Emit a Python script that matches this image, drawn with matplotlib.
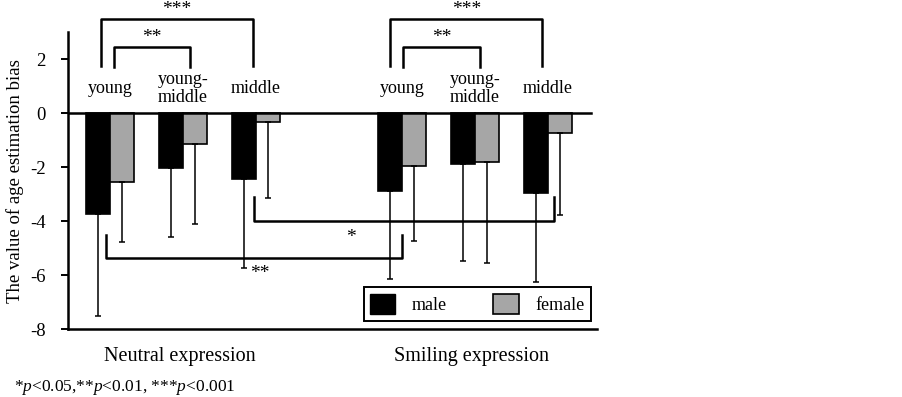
import numpy as np
import matplotlib
matplotlib.use("Agg")
import matplotlib.pyplot as plt
from matplotlib.patches import Patch

plt.rcParams["font.family"] = ["Liberation Serif", "DejaVu Serif"]
plt.rcParams["axes.unicode_minus"] = False
plt.rcParams["mathtext.fontset"] = "custom"
plt.rcParams["mathtext.rm"] = "Liberation Serif"
plt.rcParams["mathtext.it"] = "Liberation Serif:italic"

# data
expressions = ["Neutral expression", "Smiling expression"]
age_groups = ["young", "young-\nmiddle", "middle"]
male_mean = [-3.75, -2.05, -2.44, -2.89, -1.90, -2.95]
male_sd = [3.77, 2.55, 3.28, 3.27, 3.57, 3.30]
female_mean = [-2.56, -1.15, -0.33, -1.94, -1.80, -0.73]
female_sd = [2.21, 2.97, 2.81, 2.80, 3.74, 3.05]

# (left pos, right pos, level, leg end, label, label top y) -- significance brackets
brackets_top = [
    (-0.13, 1.96, 3.48, 1.75, "***", 4.15),
    (0.05, 1.10, 2.44, 1.71, "**", 3.12),
    (3.84, 5.92, 3.48, 1.75, "***", 4.15),
    (4.02, 5.07, 2.44, 1.71, "**", 3.12),
]
brackets_bottom = [
    (-0.06, 4.00, -5.36, -4.52, "**", 2.05, -5.95),
    (1.97, 6.08, -3.99, -3.12, "*", 3.30, -4.62),
]

pos = np.array([0, 1, 2, 4, 5, 6])
w = 0.33

fig = plt.figure(figsize=(9.03, 3.97), dpi=100)
ax = fig.add_axes([0.075, 0.171, 0.586, 0.748])

ax.bar(pos - w / 2, male_mean, w, color="black", edgecolor="black", lw=1.2)
ax.bar(pos + w / 2, female_mean, w, color="#a6a6a6", edgecolor="black", lw=1.2)
ax.errorbar(pos - w / 2, male_mean, yerr=[male_sd, np.zeros(6)], fmt="none",
            ecolor="black", elinewidth=1.1, capsize=2.5, capthick=1.1)
ax.errorbar(pos + w / 2, female_mean, yerr=[female_sd, np.zeros(6)], fmt="none",
            ecolor="black", elinewidth=1.1, capsize=2.5, capthick=1.1)

ax.axhline(0, color="black", lw=1.8, xmax=0.988)

ax.set_xlim(-0.58, 6.67)
ax.set_ylim(-8, 3)
ax.set_yticks([2, 0, -2, -4, -6, -8])
ax.set_xticks([])
ax.tick_params(axis="y", direction="out", length=5, width=1.4, pad=11, labelsize=13.5)
for s in ["top", "right"]:
    ax.spines[s].set_visible(False)
ax.spines["left"].set_linewidth(1.8)
ax.spines["bottom"].set_linewidth(1.8)
ax.set_ylabel("The value of age estimation bias", fontsize=13.5, labelpad=4)

for p, lab in zip(pos, age_groups * 2):
    ax.text(p, 0.92, lab, ha="center", va="center", fontsize=13, linespacing=1.1)

for i, lab in enumerate(expressions):
    ax.text(pos[3 * i + 1] - 0.05, -9.0, lab, ha="center", va="center", fontsize=14.5)

for x0, x1, yl, yleg, lab, ly in brackets_top:
    ax.plot([x0, x0, x1, x1], [yleg, yl, yl, yleg], color="black", lw=1.8, clip_on=False)
    ax.text((x0 + x1) / 2, ly, lab, ha="center", va="top", fontsize=14,
            clip_on=False)

for x0, x1, yl, yleg, lab, lx, ly in brackets_bottom:
    ax.plot([x0, x0, x1, x1], [yleg, yl, yl, yleg], color="black", lw=1.8)
    ax.text(lx, ly, lab, ha="center", va="center", fontsize=14)

handles = [Patch(facecolor="black", edgecolor="black"),
           Patch(facecolor="#a6a6a6", edgecolor="black", lw=1.2)]
leg = ax.legend(handles, ["male", "female"], ncol=2, loc="lower right",
                bbox_to_anchor=(0.988, 0.028), fontsize=13, fancybox=False,
                edgecolor="black", framealpha=1, handlelength=1.4, handleheight=1.4,
                handletextpad=0.9, columnspacing=2.6, borderpad=0.35, borderaxespad=0)
leg.get_frame().set_linewidth(1.4)

fig.text(0.015, 0.023, r"*$p$<0.05,**$p$<0.01, ***$p$<0.001", fontsize=12.5,
         ha="left", va="center")

fig.savefig("out.png", dpi=100)
